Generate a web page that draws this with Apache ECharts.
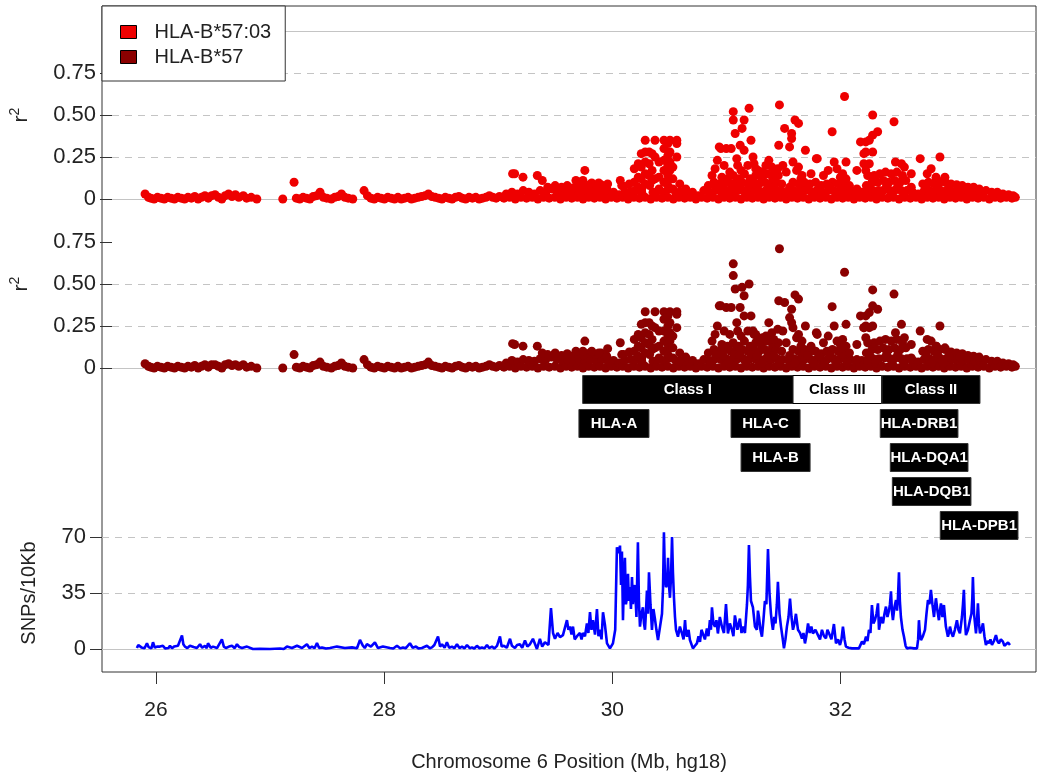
<!DOCTYPE html>
<html><head><meta charset="utf-8">
<script src="https://cdn.jsdelivr.net/npm/echarts@6/dist/echarts.min.js"></script>
<style>html,body{margin:0;padding:0;background:#fff}#chart{width:1050px;height:777px}</style>
</head><body><div id="chart"></div>
<script>
// ---------- data ----------
const seriesNames = ['HLA-B*57:03', 'HLA-B*57'];
const xTicks = [26, 28, 30, 32];
const r2Ticks = [0, 0.25, 0.5, 0.75];
const xTitle = 'Chromosome 6 Position (Mb, hg18)';

// [position (Mb), r2 with HLA-B*57:03, r2 with HLA-B*57]
const ldTelomeric = [
[25.82,.03,.025],[25.85,.01,.01],[25.87,.005,.005],[25.90,0,0],[25.93,.01,.01],[25.96,.005,.005],[25.99,0,0],[26.02,.01,.01],[26.05,.005,.005],[26.08,0,0],
[26.11,.01,.01],[26.14,.005,.005],[26.17,0,0],[26.20,.01,.01],[26.23,.005,.005],[26.26,.015,.015],[26.29,0,0],[26.32,.01,.01],[26.35,.02,.02],[26.38,.005,.005],
[26.41,.02,.02],[26.44,.025,.02],[26.47,.01,.01],[26.50,0,0],[26.53,.02,.02],[26.56,.03,.025],[26.59,.015,.015],[26.62,.025,.02],[26.65,.01,.01],[26.69,.02,.02],
[26.72,.005,.005],[26.76,.01,.01],[26.81,0,0],[27.04,0,0],[27.14,.10,.08],[27.16,.005,.005],[27.19,0,0],[27.22,.01,.01],[27.25,.005,.005],[27.28,0,0],
[27.31,.015,.015],[27.34,.02,.02],[27.37,.04,.035],[27.40,.01,.01],[27.43,.005,.005],[27.47,0,0],[27.50,.01,.01],[27.53,.015,.015],[27.56,.03,.03],[27.59,.01,.01],
[27.62,.005,.005],[27.66,0,0],[27.76,.05,.05],[27.79,.02,.02],[27.82,.005,.005],[27.85,0,0],[27.88,.01,.01],[27.91,.005,.005],[27.94,0,0],[27.97,.01,.01],
[28.00,.005,.005],[28.03,0,0],[28.06,.01,.01],[28.09,0,0],[28.12,.005,.005],[28.15,.01,.01],[28.18,0,0],[28.21,.005,.005],[28.24,.01,.01],[28.27,.015,.015],
[28.30,.02,.02],[28.33,.03,.035],[28.36,.015,.015],[28.39,.01,.01],[28.42,.005,.005],[28.45,0,0],[28.48,.01,.01],[28.51,.005,.005],[28.54,0,0],[28.57,.01,.01],
[28.60,.015,.015],[28.63,.005,.005],[28.66,0,0],[28.69,.01,.01],[28.72,.005,.005],[28.75,.01,.01],[28.78,0,0],[28.81,.005,.005],[28.84,.01,.01],[28.87,.02,.02],
[28.90,.01,.01],[28.93,.005,.005],[28.96,.015,.015],[28.99,.01,.01]
];
const ldProximal = [
[29.00,.005,.005],[29.02,.03,.03],[29.05,.01,.01],[29.07,.04,.045],[29.10,0,0],[29.12,.03,.035],[29.15,.01,.01],[29.17,.05,.05],[29.20,.005,.005],[29.22,.04,.045],
[29.25,.01,.01],[29.27,.03,.04],[29.30,0,0],[29.32,.05,.055],[29.35,.01,.01],[29.37,.04,.05],[29.40,.005,.005],[29.42,.06,.065],[29.45,.01,.01],[29.47,.045,.05],
[29.50,0,0],[29.52,.035,.04],[29.51,.07,.075],[29.55,.01,.01],[29.57,.04,.045],[29.56,.08,.085],[29.60,.005,.005],[29.62,.035,.04],[29.61,.065,.07],[29.65,.01,.01],
[29.67,.04,.045],[29.66,.075,.08],[29.70,0,0],[29.72,.035,.04],[29.71,.07,.075],[29.75,.01,.01],[29.77,.045,.05],[29.76,.085,.09],[29.80,.005,.005],[29.82,.04,.045],
[29.81,.075,.08],[29.85,.01,.01],[29.87,.045,.05],[29.86,.085,.09],[29.90,0,0],[29.92,.035,.04],[29.91,.065,.07],[29.95,.01,.01],[29.97,.04,.045],[30.00,.005,.005],
[30.02,.025,.03],[30.05,.01,.01],[30.07,.04,.045],[30.06,.075,.08],[30.10,0,0],[30.12,.045,.05],[30.11,.09,.095],
[29.076,.15,.145],[29.094,.15,.14],[29.168,.13,.13],[29.295,.14,.13],[29.339,.11,.09],[29.387,.07,.08],[29.453,.08,.09],[29.637,.11,.10],[29.699,.11,.10],[29.716,.17,.16],
[29.777,.095,.10],[29.839,.095,.09],[29.918,.09,.115],[30.030,.11,.15],[30.043,.08,.08]
];
const ldClassI = [
[30.15,.01,.01],[30.17,.05,.05],[30.20,.005,.005],[30.22,.04,.04],[30.25,.01,.01],[30.30,0,0],[30.32,.04,.04],[30.35,.01,.01],[30.37,.05,.05],[30.40,.005,.005],
[30.42,.04,.045],[30.45,.01,.01],[30.50,0,0],[30.52,.04,.045],[30.55,.01,.01],[30.57,.04,.04],[30.60,.005,.005],[30.62,.03,.035],[30.61,.06,.065],[30.65,.01,.01],
[30.67,.04,.045],[30.70,0,0],[30.72,.02,.025],[30.75,.01,.01],[30.77,.05,.05],[30.80,.005,.005],[30.82,.04,.045],[30.81,.08,.09],[30.85,.01,.01],[30.87,.05,.055],
[30.86,.10,.11],[30.90,0,0],[30.92,.045,.05],[30.91,.09,.10],[30.93,.13,.14],[30.95,.01,.01],[30.97,.05,.055],[30.96,.10,.11],[30.98,.12,.13],[31.00,.005,.005],
[31.02,.045,.05],[31.01,.09,.10],[31.03,.14,.15],[31.05,.01,.01],[31.07,.05,.055],[31.06,.10,.11],[31.08,.12,.13],[31.10,0,0],[31.12,.05,.055],[31.11,.10,.11],
[31.13,.15,.16],[31.15,.01,.01],[31.17,.045,.05],[31.16,.09,.10],[31.18,.12,.13],[31.20,.005,.005],[31.22,.05,.055],[31.21,.10,.11],[31.23,.14,.15],[31.25,.01,.01],
[31.27,.045,.05],[31.26,.09,.10],[31.28,.13,.14],[31.30,0,0],[31.32,.05,.055],[31.31,.10,.11],[31.33,.15,.16],[31.35,.01,.01],[31.37,.045,.05],[31.36,.09,.10],
[31.38,.12,.13],[31.40,.005,.005],[31.42,.05,.055],[31.41,.10,.11],[31.43,.14,.15],[31.45,.01,.01],[31.47,.045,.05],[31.46,.09,.10],[31.50,0,0],[31.52,.04,.045],
[31.55,.01,.01],[31.57,.05,.055],[31.56,.10,.11],[31.60,.005,.005],[31.62,.045,.05],[31.61,.09,.10],[31.63,.12,.13],
[30.83,.03,.03],[30.88,.07,.08],[30.94,.07,.075],[30.99,.03,.03],[31.04,.075,.08],[31.09,.07,.08],[31.14,.03,.035],[31.19,.075,.08],[31.24,.07,.075],[31.29,.03,.03],
[31.34,.075,.08],[31.39,.07,.075],[31.44,.03,.03],[31.53,.07,.075],[31.58,.03,.03],[31.64,.07,.075],
// HLA-A block
[30.154,.18,.17],[30.154,.10,.10],[30.16,.05,.05],[30.189,.21,.20],[30.189,.13,.13],[30.19,.07,.07],[30.216,.27,.26],[30.216,.19,.18],[30.216,.12,.12],[30.22,.06,.06],
[30.251,.35,.335],[30.251,.28,.27],[30.251,.22,.21],[30.251,.15,.15],[30.251,.09,.09],[30.286,.28,.27],[30.286,.21,.20],[30.286,.14,.14],[30.29,.08,.08],[30.312,.27,.25],
[30.312,.17,.17],[30.312,.11,.11],[30.338,.35,.335],[30.338,.25,.24],[30.338,.12,.12],[30.373,.22,.22],[30.373,.13,.13],[30.373,.06,.06],[30.417,.35,.335],[30.417,.30,.29],
[30.417,.23,.22],[30.417,.17,.16],[30.417,.10,.10],[30.452,.33,.31],[30.452,.26,.25],[30.452,.20,.19],[30.452,.14,.14],[30.452,.08,.08],[30.470,.35,.335],[30.470,.28,.27],
[30.470,.22,.21],[30.470,.17,.16],[30.470,.12,.12],[30.47,.06,.06],[30.496,.19,.19],[30.496,.12,.12],[30.496,.06,.06],[30.531,.35,.335],[30.531,.33,.32],[30.531,.25,.24],
[30.557,.09,.09],[30.557,.04,.04],
// HLA-C / HLA-B block
[30.843,.14,.16],[30.890,.23,.25],[30.907,.31,.37],[30.921,.30,.37],[30.969,.30,.36],[31.013,.30,.36],[31.031,.52,.62],[31.031,.47,.55],[31.048,.39,.47],[31.062,.24,.27],
[31.092,.32,.36],[31.109,.42,.48],[31.127,.47,.43],[31.127,.29,.31],[31.171,.54,.50],[31.188,.35,.31],[31.206,.25,.22],[31.215,.21,.20],[31.250,.17,.17],[31.346,.23,.27],
[31.373,.19,.21],[31.425,.18,.23],[31.44,.56,.71],[31.434,.32,.40],[31.486,.42,.39],[31.548,.39,.35],[31.548,.36,.27],[31.530,.31,.30],[31.578,.47,.435],[31.609,.45,.41],
[31.609,.19,.20],[31.592,.17,.18],
[30.87,.18,.20],[30.95,.20,.22],[31.00,.16,.20],[31.07,.20,.22],[31.10,.17,.19],[31.16,.20,.22],[31.23,.18,.20],[31.29,.16,.18],[31.32,.20,.19],[31.39,.15,.17],
[31.47,.20,.22],[31.50,.16,.15],[31.56,.22,.24]
];
const ldClassIII = [
[31.65,.01,.01],[31.67,.05,.055],[31.66,.10,.11],[31.70,0,0],[31.72,.045,.05],[31.71,.09,.10],[31.75,.01,.01],[31.77,.05,.05],[31.76,.10,.10],[31.80,.005,.005],
[31.82,.04,.045],[31.81,.08,.085],[31.85,.01,.01],[31.87,.05,.055],[31.86,.09,.10],[31.90,0,0],[31.92,.05,.055],[31.91,.10,.11],[31.95,.01,.01],[31.97,.045,.05],
[31.96,.09,.10],[31.98,.13,.14],[32.00,.005,.005],[32.02,.05,.055],[32.01,.10,.11],[32.03,.12,.13],[32.05,.01,.01],[32.07,.045,.05],[32.06,.08,.09],[32.10,0,0],
[32.12,.03,.035],[32.15,.01,.01],[32.17,.04,.045],[32.20,.005,.005],[32.22,.04,.045],[32.21,.08,.09],[32.25,.01,.01],[32.27,.05,.055],[32.26,.10,.11],[32.28,.14,.15],
[32.30,0,0],[32.32,.05,.055],[32.31,.10,.11],[32.33,.15,.16],
[31.69,.07,.075],[31.74,.03,.03],[31.79,.065,.07],[31.84,.03,.03],[31.89,.07,.075],[31.94,.03,.03],[31.99,.075,.08],[32.04,.03,.03],[32.24,.07,.075],[32.29,.03,.03],
[31.670,.29,.25],[31.767,.24,.21],[31.775,.24,.20],[31.872,.17,.19],[31.907,.40,.365],[31.925,.22,.25],[31.986,.11,.12],[32.017,.61,.57],[32.030,.22,.26],[32.126,.17,.14],
[32.126,.06,.05],[32.158,.34,.31],[32.205,.34,.31],[32.236,.35,.33],[32.266,.38,.37],[32.310,.40,.35],[32.266,.50,.465],[32.188,.27,.24],[32.205,.28,.25],[32.266,.28,.25],
[32.188,.21,.24],[32.236,.21,.24],[32.205,.17,.18],[32.222,.14,.15],
[31.64,.14,.16],[31.72,.15,.13],[31.83,.14,.15],[31.95,.18,.16],[32.00,.15,.17]
];
const ldClassII = [
[32.35,.01,.01],[32.37,.055,.06],[32.36,.11,.12],[32.38,.16,.17],[32.40,.005,.005],[32.42,.05,.055],[32.41,.10,.11],[32.43,.15,.16],[32.45,.01,.01],[32.47,.055,.06],
[32.46,.11,.12],[32.48,.16,.17],[32.50,0,0],[32.52,.05,.055],[32.51,.10,.11],[32.53,.14,.15],[32.55,.01,.01],[32.57,.05,.055],[32.56,.11,.12],[32.60,.005,.005],
[32.62,.04,.045],[32.65,.01,.01],[32.67,.03,.035],[32.70,0,0],[32.72,.045,.05],[32.71,.09,.10],[32.75,.01,.01],[32.77,.05,.055],[32.76,.10,.11],[32.80,.005,.005],
[32.82,.045,.05],[32.81,.09,.10],[32.83,.12,.13],[32.85,.01,.01],[32.87,.05,.055],[32.86,.10,.11],[32.90,0,0],[32.92,.05,.055],[32.91,.10,.11],[32.95,.01,.01],
[32.97,.045,.05],[32.96,.09,.095],[33.00,.005,.005],[33.02,.045,.05],[33.01,.085,.09],[33.05,.01,.01],[33.07,.04,.045],[33.06,.08,.085],[33.10,0,0],[33.12,.04,.045],
[33.11,.07,.075],[33.15,.01,.01],[33.17,.04,.04],[33.16,.07,.07],[33.20,.005,.005],[33.22,.035,.04],[33.21,.06,.065],[33.25,.01,.01],[33.27,.05,.05],[33.30,0,0],
[33.32,.04,.04],[33.35,.01,.01],[33.37,.04,.04],[33.40,.005,.005],[33.42,.03,.03],[33.45,.01,.01],[33.47,.025,.025],[33.50,.005,.005],[33.51,.02,.02],[33.53,.01,.01],
[32.39,.08,.085],[32.44,.03,.03],[32.49,.08,.085],[32.54,.03,.03],[32.74,.07,.075],[32.79,.03,.03],[32.84,.075,.08],[32.89,.03,.03],[32.94,.065,.07],[33.04,.06,.065],
[32.455,.46,.44],[32.468,.22,.21],[32.521,.21,.26],[32.547,.19,.18],[32.608,.15,.14],[32.608,.07,.06],[32.687,.24,.22],[32.749,.15,.17],[32.784,.18,.16],[32.862,.25,.25],
[32.827,.13,.13],[32.906,.13,.12]
];

// SNP density, [position (Mb), SNPs per 10Kb]
const snpDensityTel = [
[25.833,0.6],[25.845,2.5],[25.860,3],[25.872,1],[25.886,2],[25.900,0.5],[25.921,3.6],[25.935,1.2],[25.947,1.5],[25.960,0.4],[25.974,4.2],[25.990,0.8],[26.009,1.5],[26.022,0.3],
[26.035,1.5],[26.048,2.6],[26.061,2],[26.080,0.4],[26.096,1.5],[26.110,0.6],[26.123,2],[26.140,0.5],[26.158,1.5],[26.175,0.4],[26.193,2],[26.210,0.8],[26.228,8.5],[26.240,3],
[26.254,1.5],[26.275,0.6],[26.298,2],[26.330,1.2],[26.359,0.6],[26.386,3],[26.405,0.8],[26.429,2],[26.445,0.5],[26.456,3.6],[26.480,0.8],[26.500,1.5],[26.535,0.6],[26.578,6],
[26.595,1.5],[26.613,0.6],[26.640,1.5],[26.666,2],[26.690,0.5],[26.710,3],[26.730,1.2],[26.754,0.6],[26.798,1.5],[26.850,0],[26.911,0.2],[26.999,0],[27.087,0.3],[27.120,0],
[27.148,1.5],[27.192,0.6],[27.236,2],[27.280,0.6],[27.323,3],[27.345,0.6],[27.367,1.5],[27.390,0.5],[27.411,3.8],[27.430,0.6],[27.455,1],[27.490,0.3],[27.525,0.6],[27.586,1.5],
[27.656,0.6],[27.718,1],[27.762,0.5],[27.788,5.7],[27.814,2],[27.830,0.6],[27.849,3],[27.884,1.5],[27.900,0.4],[27.919,4.2],[27.946,0.6],[27.989,1.5],[28.051,0.6],[28.080,0.3],
[28.112,2],[28.140,0.4],[28.165,1],[28.190,0.5],[28.226,3.6],[28.250,0.8],[28.279,1.5],[28.300,0.4],[28.331,0.6],[28.375,2],[28.400,0.5],[28.419,1],[28.440,2.5],[28.472,7.8],
[28.490,1.5],[28.507,3],[28.530,0.8],[28.550,4.2],[28.570,0.8],[28.594,1.5],[28.615,0.5],[28.638,3],[28.660,0.6],[28.682,1.5],[28.705,0.4],[28.726,2.5],[28.750,0.5],[28.769,1],
[28.790,0.3],[28.813,2],[28.835,0.5],[28.857,1],[28.880,0.4],[28.901,2.5],[28.920,0.6],[28.945,1.5],[28.965,0.3],[28.989,2],[29.015,7.8],[29.030,1.5],[29.050,2],[29.075,0.8],
[29.103,6.4],[29.120,2],[29.146,0.6],[29.165,2.5],[29.190,3],[29.210,0.8],[29.234,5.3],[29.255,1.5],[29.278,3],[29.304,6.4],[29.339,0],[29.365,6.4],[29.385,1.5],[29.409,4.2],
[29.440,2.5],[29.462,25.5],[29.480,10],[29.497,6.4],[29.520,10],[29.541,7.4]
];
const snpDensityMHC = [
[29.567,8.7],[29.602,18],[29.615,12],[29.628,14],[29.642,9],[29.655,14],[29.670,6],[29.690,8],[29.716,10],[29.730,6],[29.742,10],[29.760,8],[29.777,16],[29.790,10],[29.804,23],
[29.817,12],[29.830,18],[29.848,9],[29.865,25],[29.878,8],[29.891,12],[29.905,6],[29.918,23],[29.935,15],[29.953,3.5],[29.979,0.4],[30.005,3.5],[30.025,12],[30.040,63.5],[30.055,60],
[30.067,64.6],[30.076,40],[30.084,61],[30.093,18],[30.102,45],[30.110,57],[30.119,28],[30.128,32],[30.137,47],[30.145,30],[30.154,38.7],[30.163,25],[30.172,45],[30.180,28],[30.189,35],
[30.198,40],[30.211,20],[30.224,66.7],[30.233,30],[30.242,14],[30.255,22],[30.268,26],[30.277,16],[30.286,12],[30.295,24],[30.303,36.6],[30.312,22],[30.321,48],[30.334,28],[30.347,12],
[30.360,25],[30.373,19],[30.386,12],[30.400,5.6],[30.418,14],[30.435,22],[30.444,38],[30.452,72.9],[30.461,45],[30.470,38.7],[30.479,40],[30.488,57],[30.496,40],[30.505,32],
[30.514,45],[30.523,70],[30.531,48],[30.540,32],[30.549,20],[30.558,12],[30.575,7.7],[30.592,14],[30.610,9.7],[30.624,6],[30.637,18],[30.645,10],[30.654,7.7],[30.668,12],[30.680,5.6],
[30.706,0.4],[30.724,2],[30.741,3.5],[30.755,8],[30.768,4.5],[30.781,12],[30.794,10.8],[30.811,6],[30.829,12.8],[30.842,8],[30.855,18],[30.864,12],[30.873,26],[30.886,16],[30.899,14],
[30.912,18],[30.925,9.7],[30.942,20],[30.960,14],[30.978,10],[30.996,28],[31.005,18],[31.013,9.7],[31.030,16],[31.048,12],[31.061,8],[31.074,21],[31.096,12],[31.118,19],[31.132,10],
[31.145,14],[31.162,10],[31.180,28],[31.188,40],[31.197,65],[31.206,45],[31.215,30],[31.232,26],[31.250,14],[31.267,12],[31.276,24],[31.285,20],[31.298,12],[31.311,7.7],[31.324,18],
[31.337,30],[31.350,28],[31.364,62.5],[31.377,35],[31.390,22],[31.399,16],[31.407,12],[31.420,20],[31.430,16],[31.442,28],[31.451,42],[31.465,22],[31.478,14],[31.490,8],[31.504,0.4],
[31.517,6],[31.530,14],[31.544,20],[31.557,31.5],[31.570,20],[31.583,12],[31.596,16],[31.609,22],[31.627,12],[31.645,10],[31.662,6.6],[31.675,10],[31.688,3.5],[31.700,8],[31.715,16],
[31.730,10],[31.744,14],[31.758,9.7],[31.780,12],[31.802,8.7],[31.820,6],[31.837,12],[31.855,8],[31.872,6.7],[31.885,12],[31.898,10],[31.920,6],[31.942,15.6],[31.960,3.5],[31.978,6],
[31.995,2.5],[32.008,6],[32.021,14],[32.035,6],[32.047,1.5],[32.070,0.8],[32.100,0.4],[32.130,0.4],[32.161,0.4],[32.188,4.6],[32.205,3],[32.223,7.7],[32.236,5],[32.249,12],[32.262,10],
[32.275,27.5],[32.288,16],[32.301,18],[32.315,22],[32.328,28.5],[32.337,12],[32.355,20],[32.372,16],[32.385,22],[32.398,26.5],[32.411,20],[32.424,24],[32.433,28],[32.442,36],[32.450,24],
[32.459,18],[32.472,26],[32.486,30.6],[32.495,24],[32.503,32],[32.512,48],[32.520,30],[32.529,20],[32.543,12],[32.556,7.7],[32.570,2],[32.582,0.4],[32.610,0.8],[32.643,0.4],
[32.658,1.5],[32.670,0.4],[32.680,6],[32.687,18],[32.695,10],[32.705,5.6],[32.722,8],[32.740,12],[32.753,22],[32.766,30.6],[32.779,28],[32.792,37],[32.805,28],[32.819,20],[32.827,26],
[32.836,31.7],[32.849,24],[32.862,18],[32.871,24],[32.880,28.5],[32.893,20],[32.906,27.5],[32.923,14],[32.941,7.7],[32.950,10],[32.959,14],[32.972,10],[32.985,7.7],[33.002,12],
[33.020,18],[33.033,12],[33.046,9.8],[33.064,20],[33.073,28],[33.081,37],[33.090,18],[33.099,8.7],[33.117,12],[33.134,18],[33.147,22],[33.155,32],[33.160,45],[33.170,22],[33.187,9.8],
[33.196,18],[33.204,28.5],[33.213,16],[33.222,9.8],[33.235,12],[33.248,16],[33.261,8],[33.274,2.5],[33.288,5],[33.301,3.5],[33.314,6],[33.327,2.5],[33.345,5],[33.362,8.7],[33.375,5],
[33.388,3.5],[33.405,6],[33.423,4.6],[33.436,2],[33.450,2.5],[33.468,4],[33.485,2.5]
];

// MHC class regions and HLA genes (Mb), gene label track
const classNames = ['Class I', 'Class III', 'Class II'];
const classStart = [29.740, 31.583, 32.363];
const classEnd = [31.583, 32.360, 33.222];
const geneNames = ['HLA-A', 'HLA-C', 'HLA-B', 'HLA-DRB1', 'HLA-DQA1', 'HLA-DQB1', 'HLA-DPB1'];
const geneStart = [29.707, 31.040, 31.128, 32.348, 32.436, 32.454, 32.874];
const geneEnd = [30.321, 31.645, 31.733, 33.029, 33.117, 33.143, 33.555];
const geneTrack = [1, 1, 2, 1, 2, 3, 4];

// ---------- chart ----------
const FONT = '"Liberation Sans", Arial, Helvetica, sans-serif';
const X_MIN = 25.527, X_MAX = 33.713;
const L = 102, W = 934;
const ld = ldTelomeric.concat(ldProximal, ldClassI, ldClassIII, ldClassII);
const density = snpDensityTel.concat(snpDensityMHC);
const annot = [];
classNames.forEach((n, i) => annot.push({name: n, start: classStart[i], end: classEnd[i], track: 0, light: n === 'Class III'}));
geneNames.forEach((n, i) => annot.push({name: n, start: geneStart[i], end: geneEnd[i], track: geneTrack[i], light: false}));

const gridLine = {color: '#c4c4c4', width: 1};
const xLabelStyle = {fontFamily: FONT, fontSize: 21, color: '#222'};
const yLabelStyle = {fontFamily: FONT, fontSize: 22, color: '#222'};
const nameStyle = {fontFamily: FONT, fontSize: 20, color: '#222'};
function r2Axis(gridIndex, showMax) {
  return {
    gridIndex, type: 'value', min: 0, max: 1, interval: 0.25,
    axisLine: {show: false},
    axisTick: {show: true, length: 12, customValues: r2Ticks, lineStyle: {color: '#333'}},
    axisLabel: Object.assign({margin: 16, customValues: r2Ticks,
      formatter: v => v === 0 ? '0' : v.toFixed(2)}, yLabelStyle),
    splitLine: {show: true, showMaxLine: showMax, lineStyle: Object.assign({type: [7, 6]}, gridLine)},
    name: '{r|r}{s|2}', nameLocation: 'middle', nameRotate: 90, nameGap: 80,
    nameTextStyle: {fontFamily: FONT, color: '#222',
      rich: {r: {fontFamily: FONT, fontSize: 21, color: '#222', verticalAlign: 'bottom', lineHeight: 24},
             s: {fontFamily: FONT, fontSize: 14, color: '#222', verticalAlign: 'top', lineHeight: 24}}}
  };
}
function zeroLines(vals) {
  return {silent: true, z: 1, symbol: 'none', label: {show: false},
    lineStyle: {color: '#c4c4c4', width: 1, type: 'solid'},
    data: vals.map(v => ({yAxis: v}))};
}

const option = {
  animation: false,
  backgroundColor: '#fff',
  textStyle: {fontFamily: FONT},
  grid: [
    {left: L, top: 6, width: W, height: 667, show: true, borderColor: '#333', borderWidth: 1, backgroundColor: 'transparent'},
    {left: L, top: 31, width: W, height: 168},
    {left: L, top: 200, width: W, height: 168},
    {left: L, top: 537, width: W, height: 112},
    {left: L, top: 372.5, width: W, height: 170}
  ],
  xAxis: [
    {gridIndex: 0, type: 'value', min: X_MIN, max: X_MAX,
     axisLine: {show: false},
     axisTick: {show: true, length: 12, customValues: xTicks, lineStyle: {color: '#333'}},
     axisLabel: Object.assign({margin: 28, customValues: xTicks}, xLabelStyle),
     splitLine: {show: false},
     name: xTitle, nameLocation: 'middle', nameGap: 80, nameTextStyle: nameStyle},
    {gridIndex: 1, type: 'value', min: X_MIN, max: X_MAX, show: false},
    {gridIndex: 2, type: 'value', min: X_MIN, max: X_MAX, show: false},
    {gridIndex: 3, type: 'value', min: X_MIN, max: X_MAX, show: false},
    {gridIndex: 4, type: 'value', min: X_MIN, max: X_MAX, show: false}
  ],
  yAxis: [
    {gridIndex: 0, type: 'value', min: 0, max: 1, show: false},
    r2Axis(1, true),
    r2Axis(2, false),
    {gridIndex: 3, type: 'value', min: 0, max: 70, interval: 35,
     axisLine: {show: false},
     axisTick: {show: true, length: 12, lineStyle: {color: '#333'}},
     axisLabel: Object.assign({margin: 16}, yLabelStyle),
     splitLine: {show: true, lineStyle: Object.assign({type: [7, 6]}, gridLine)},
     name: 'SNPs/10Kb', nameLocation: 'middle', nameRotate: 90, nameGap: 63, nameTextStyle: nameStyle},
    {gridIndex: 4, type: 'value', min: -0.5, max: 4.5, inverse: true, show: false}
  ],
  legend: {
    left: L, top: 6, orient: 'vertical',
    backgroundColor: '#fff', borderColor: '#333', borderWidth: 1, borderRadius: 0,
    padding: [15, 14, 13, 18], itemWidth: 16, itemHeight: 13, itemGap: 3, icon: 'rect',
    itemStyle: {borderColor: '#000', borderWidth: 1, opacity: 1},
    textStyle: {fontFamily: FONT, fontSize: 20, color: '#222', padding: [0, 0, 0, 13], lineHeight: 22},
    data: seriesNames, selectedMode: false, z: 10
  },
  series: [
    {name: seriesNames[0], type: 'scatter', xAxisIndex: 1, yAxisIndex: 1, z: 3, clip: false,
     symbolSize: 9, itemStyle: {color: '#ee0000', opacity: 1},
     data: ld.map(d => [d[0], d[1]]), markLine: zeroLines([0, 1])},
    {name: seriesNames[1], type: 'scatter', xAxisIndex: 2, yAxisIndex: 2, z: 3, clip: false,
     symbolSize: 9, itemStyle: {color: '#8b0000', opacity: 1},
     data: ld.map(d => [d[0], d[2]]), markLine: zeroLines([0])},
    {name: 'SNP density', type: 'line', xAxisIndex: 3, yAxisIndex: 3, z: 3, clip: false,
     showSymbol: false, lineStyle: {color: '#0000ff', width: 2.6}, itemStyle: {color: '#0000ff'},
     data: density, markLine: zeroLines([0])},
    {name: 'MHC', type: 'custom', xAxisIndex: 4, yAxisIndex: 4, z: 4, clip: false,
     data: annot.map(a => [a.start, a.end, a.track]),
     encode: {x: [0, 1], y: 2},
     renderItem: function (params, api) {
       const a = annot[params.dataIndex];
       const p0 = api.coord([api.value(0), api.value(2)]);
       const p1 = api.coord([api.value(1), api.value(2)]);
       const h = 28;
       return {type: 'group', children: [
         {type: 'rect', shape: {x: p0[0], y: p0[1] - h / 2, width: p1[0] - p0[0], height: h},
          style: {fill: a.light ? '#fff' : '#000', stroke: a.light ? '#000' : '#333', lineWidth: 1}},
         {type: 'text', style: {text: a.name, x: (p0[0] + p1[0]) / 2, y: p0[1], align: 'center', verticalAlign: 'middle',
          fill: a.light ? '#000' : '#fff', font: 'bold 15px ' + FONT}}
       ]};
     }}
  ]
};
const chart = echarts.init(document.getElementById('chart'), null, {renderer: 'canvas'});
chart.setOption(option);
</script></body></html>
